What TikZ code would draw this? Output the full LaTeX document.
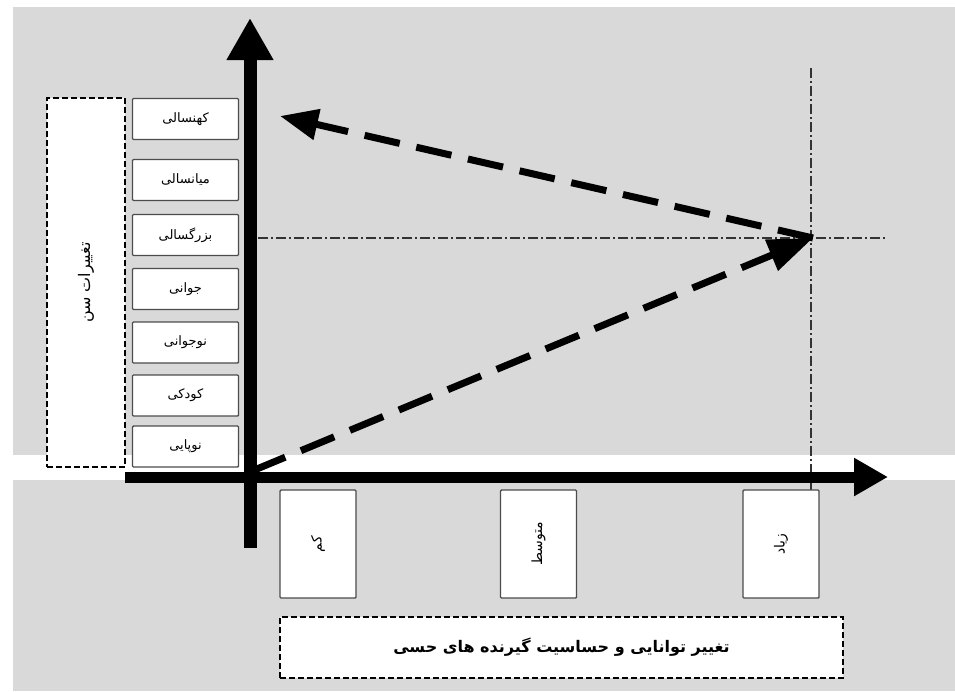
\documentclass[tikz,border=0pt]{standalone}
\usepackage{fontspec}
\newfontfamily\arabicfont[Script=Arabic]{DejaVu Sans}
\TeXXeTstate=1
\usetikzlibrary{arrows.meta}
\definecolor{bggray}{HTML}{D9D9D9}
\newcommand{\fa}[1]{\beginR #1\endR}

\begin{document}
\begin{tikzpicture}[
                    x=1pt, y=-1pt,
                    every node/.style={font=\arabicfont\fontsize{13}{15}\selectfont},
                    agebox/.style={draw=black!70, fill=white, line width=1.4pt, rounded corners=1pt,
                                   minimum width=106pt, minimum height=41pt, inner sep=0pt},
                    levelbox/.style={draw=black!70, fill=white, line width=1.4pt, rounded corners=1pt,
                                     minimum width=76pt, minimum height=108pt, inner sep=0pt},
                    titlebox/.style={draw, fill=white, line width=1.3pt, dash pattern=on 6pt off 3pt, inner sep=0pt},
                    trend/.style={line width=7pt, dash pattern=on 36pt off 17pt},
                    guide/.style={black!80, line width=1.2pt, dash pattern=on 10pt off 3pt on 2pt off 3pt}
                ]
                \useasboundingbox (0,0) rectangle (955,691);
                \fill[bggray] (13,7) rectangle (955,455);
                \fill[bggray] (13,480) rectangle (955,691);

                % guides through the peak
                \coordinate (peak) at (813,238);
                \coordinate (start) at (252,471);
                \coordinate (oldtip) at (280,116);
                \draw[guide] (811,68) -- (811,490);
                \draw[guide] (258,238) -- (885,238);

                \draw[trend, -{Triangle[length=45pt,width=32pt]}] (start) -- (peak);
                \draw[trend, -{Triangle[length=38pt,width=30pt]}] (peak) -- (oldtip);

                % axes
                \draw[line width=13pt, -{Triangle[length=42pt,width=44pt]}] (250,548) -- (250,18);
                \draw[line width=11pt, -{Triangle[length=34pt,width=36pt]}] (125,477) -- (888,477);

                % age groups
                \node[titlebox, minimum width=78pt, minimum height=369pt] (agetitle) at (86,282.5) {};
                \node[rotate=90, font=\arabicfont\fontsize{16}{18}\selectfont] at (agetitle) {\fa{تغییرات سن}};
                \node[agebox] (old) at (185.5,119) {\fa{کهنسالی}};
                \node[agebox] (middle) at (185.5,180) {\fa{میانسالی}};
                \node[agebox] (adult) at (185.5,235) {\fa{بزرگسالی}};
                \node[agebox] (youth) at (185.5,289) {\fa{جوانی}};
                \node[agebox] (teen) at (185.5,342.5) {\fa{نوجوانی}};
                \node[agebox] (child) at (185.5,395.5) {\fa{کودکی}};
                \node[agebox] (toddler) at (185.5,446.5) {\fa{نوپایی}};

                % levels
                \node[levelbox] (low) at (318,544) {};
                \node[rotate=90, font=\arabicfont\fontsize{14}{16}\selectfont] at (low) {\fa{کم}};
                \node[levelbox] (mid) at (538.5,544) {};
                \node[rotate=90, font=\arabicfont\fontsize{14}{16}\selectfont] at (mid) {\fa{متوسط}};
                \node[levelbox] (high) at (781,544) {};
                \node[rotate=90, font=\arabicfont\fontsize{14}{16}\selectfont] at (high) {\fa{زیاد}};

                \node[titlebox, minimum width=563pt, minimum height=61pt, font=\arabicfont\bfseries\fontsize{16}{19}\selectfont] (sensetitle) at (561.5,647.5) {\fa{تغییر توانایی و حساسیت گیرنده های حسی}};
            \end{tikzpicture}
\end{document}
